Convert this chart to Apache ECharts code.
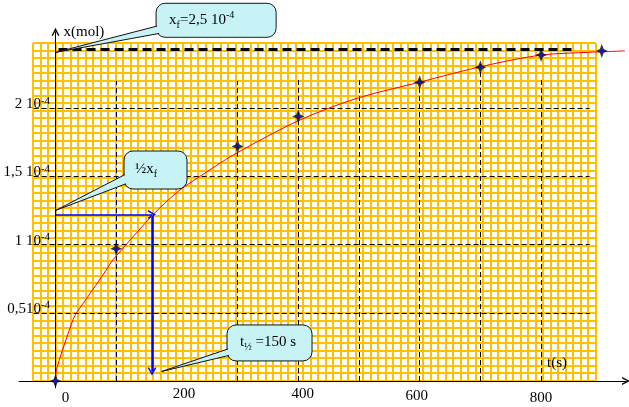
<!DOCTYPE html>
<html><head><meta charset="utf-8">
<script src="https://cdn.jsdelivr.net/npm/echarts@6/dist/echarts.min.js"></script>
<style>html,body{margin:0;padding:0;background:#fff}#c{width:629px;height:407px}</style>
</head><body><div id="c"></div>
<script>
// amounts are in units of 1e-4 mol, times in s
const times = [0, 100, 300, 400, 600, 700, 800, 900];
const amounts = [0, 0.97, 1.72, 1.94, 2.19, 2.30, 2.39, 2.42];
const curveTimes = [0, 2, 21, 32, 49, 83, 95, 161, 202, 238, 294, 401, 495, 599, 706, 801, 881, 938];
const curveAmounts = [0, 0.09, 0.35, 0.48, 0.59, 0.81, 0.89, 1.22, 1.39, 1.50, 1.66, 1.91, 2.07, 2.19, 2.31, 2.39, 2.41, 2.42];
const xTicks = [0, 200, 400, 600, 800];
const yTicks = [0.5, 1, 1.5, 2];
const yTickTexts = ['0,510', '1 10', '1,5 10', '2 10'];
const yTickExponent = '-4';
const dropTimes = [100, 300, 400, 500, 600, 700, 800];
const dropTops = [2.2, 2.2, 2.21, 2.22, 2.2, 2.33, 2.22];
const levelAmounts = [0.5, 1, 1.5, 2];
const levelRange = [-36, 880];
const finalAmount = 2.43;
const finalRange = [5, 852];
const halfTime = 159;
const halfAmount = 1.22;
const arrowEndAmount = 0.07;
const calloutTexts = ['{m|x}{sub|f}{m|=2,5 10}{sup|-4}', '{m|\u00bdx}{sub|f}', '{m|t}{sub|\u00bd}{m| =150 s}'];
const calloutTips = [[1, 2.41], [0, 1.25], [175, 0.07]];
const xName = 't(s)';
const yName = 'x(mol)';

const SERIF = 'Liberation Serif';
const chevron = 'path://M0,10 L5,0 L10,10 L8.2,10 L5,3.6 L1.8,10 Z';
const star = 'path://M5,0 L6.6,4.4 L10,6 L6.6,7.6 L5,12 L3.4,7.6 L0,6 L3.4,4.4 Z';

// callout box layout relative to the tip (pixels)
const calloutLayout = [
  {dx: 100, dy: -49, w: 120, h: 34, b1: 22, b2: 30, tx: 13, ty: 17},
  {dx: 68.5, dy: -59.5, w: 63, h: 38, b1: 22, b2: 32, tx: 11, ty: 18},
  {dx: 65.3, dy: -46.5, w: 85, h: 36, b1: 23, b2: 30, tx: 13, ty: 17}
];
const calloutRich = {
  m: {fontFamily: SERIF, fontSize: 15, lineHeight: 20, verticalAlign: 'middle', color: '#000'},
  sub: {fontFamily: SERIF, fontSize: 10, verticalAlign: 'bottom', color: '#000'},
  sup: {fontFamily: SERIF, fontSize: 10, verticalAlign: 'top', color: '#000'}
};

function renderCallout(params, api) {
  const i = params.dataIndex;
  const tip = api.coord([api.value(0), api.value(1)]);
  const L = calloutLayout[i];
  const bx = tip[0] + L.dx, by = tip[1] + L.dy;
  const fill = '#c8f3f6', stroke = '#111';
  return {type: 'group', children: [
    {type: 'rect', shape: {x: bx, y: by, width: L.w, height: L.h, r: 9}, style: {fill: fill, stroke: stroke, lineWidth: 1}},
    {type: 'polygon', shape: {points: [[bx + 4, by + L.b1], [tip[0], tip[1]], [bx + 4, by + L.b2]]}, style: {fill: fill, stroke: stroke, lineWidth: 1}},
    {type: 'rect', shape: {x: bx + 1, y: by + 1, width: L.w - 2, height: L.h - 2, r: 8}, style: {fill: fill}},
    {type: 'text', style: {text: calloutTexts[i], rich: calloutRich, x: bx + L.tx, y: by + L.ty, align: 'left', verticalAlign: 'middle'}}
  ]};
}

const xNudge = [{padding: [4, 0, 0, 20]}, {padding: [0, 0, 0, 14]}, {padding: [0, 0, 0, 9]}, {padding: [2, 6, 0, 0]}, {padding: [4, 0, 0, 0]}];
const xRich = {};
xNudge.forEach((n, i) => { xRich['t' + i] = Object.assign({fontFamily: SERIF, fontSize: 15, color: '#000'}, n); });

const noLabel = {show: false};
const chart = echarts.init(document.getElementById('c'), null, {renderer: 'canvas'});
chart.setOption({
  animation: false,
  backgroundColor: '#fff',
  grid: [
    {left: 19.08, width: 607, top: 31.82, height: 356, outerBoundsMode: 'none', containLabel: false},
    {left: 33, top: 43, width: 562.5, height: 337.5, outerBoundsMode: 'none', containLabel: false}
  ],
  xAxis: [
    {type: 'value', gridIndex: 0, min: -60, max: 940, z: 5,
     name: xName, nameLocation: 'end', nameGap: 0,
     nameTextStyle: {fontFamily: SERIF, fontSize: 15, color: '#000', align: 'right', verticalAlign: 'bottom', padding: [0, 59, 10, 0]},
     axisLine: {onZero: true, symbol: ['none', chevron], symbolSize: [8, 8], lineStyle: {color: '#000', width: 1}},
     axisTick: {show: false}, splitLine: {show: false},
     axisLabel: {customValues: xTicks, margin: -1, formatter: (v) => '{t' + xTicks.indexOf(v) + '|' + v + '}', rich: xRich}},
    {type: 'value', gridIndex: 1, min: 0, max: 75, interval: 1, silent: true,
     axisLine: {show: false}, axisTick: {show: false}, axisLabel: {show: false},
     splitLine: {show: true, lineStyle: {color: '#ffc000', width: 2}}}
  ],
  yAxis: [
    {type: 'value', gridIndex: 0, min: -0.05, max: 2.56, z: 5,
     name: yName, nameLocation: 'end', nameGap: 0,
     nameTextStyle: {fontFamily: SERIF, fontSize: 15, color: '#000', align: 'left', verticalAlign: 'middle', padding: [6, 0, 0, 8]},
     axisLine: {onZero: true, symbol: ['none', chevron], symbolSize: [8, 8], lineStyle: {color: '#000', width: 1}},
     axisTick: {show: false}, splitLine: {show: false},
     axisLabel: {customValues: yTicks, margin: -31, padding: [0, 0, 8, 0],
       formatter: (v) => '{m|' + yTickTexts[yTicks.indexOf(v)] + '}{s|' + yTickExponent + '}',
       rich: {m: {fontFamily: SERIF, fontSize: 15, lineHeight: 18, verticalAlign: 'middle', color: '#000'},
              s: {fontFamily: SERIF, fontSize: 11, verticalAlign: 'top', color: '#000'}}}},
    {type: 'value', gridIndex: 1, min: 0, max: 45, interval: 1, silent: true,
     axisLine: {show: false}, axisTick: {show: false}, axisLabel: {show: false},
     splitLine: {show: true, lineStyle: {color: '#ffc000', width: 2}}}
  ],
  series: [
    {type: 'line', xAxisIndex: 0, yAxisIndex: 0, data: [], z: 4,
     markLine: {silent: true, symbol: ['none', 'none'], label: noLabel, emphasis: {disabled: true},
       lineStyle: {color: '#000', width: 1, type: [5, 3]},
       data: dropTimes.map((t, i) => [{coord: [t, 0]}, {coord: [t, dropTops[i]]}])
         .concat(levelAmounts.map(a => [{coord: [levelRange[0], a]}, {coord: [levelRange[1], a]}]))}},
    {type: 'line', xAxisIndex: 0, yAxisIndex: 0, data: [], z: 4,
     markLine: {silent: true, symbol: ['none', 'none'], label: noLabel, emphasis: {disabled: true},
       lineStyle: {color: '#000', width: 3, type: [9, 5]},
       data: [[{coord: [finalRange[0], finalAmount]}, {coord: [finalRange[1], finalAmount]}]]}},
    {type: 'line', xAxisIndex: 0, yAxisIndex: 0, z: 6,
     data: curveTimes.map((t, i) => [t, curveAmounts[i]]),
     smooth: 0.3, showSymbol: false, lineStyle: {color: '#ff0000', width: 1}},
    {type: 'line', xAxisIndex: 0, yAxisIndex: 0, data: [], z: 8,
     markLine: {silent: true, symbol: ['none', chevron], symbolSize: [9, 8], label: noLabel, emphasis: {disabled: true},
       data: [
         [{coord: [0, halfAmount], lineStyle: {color: '#0000ff', width: 1.5, type: 'solid'}}, {coord: [halfTime, halfAmount]}],
         [{coord: [halfTime, halfAmount], lineStyle: {color: '#0000ff', width: 2.5, type: 'solid'}}, {coord: [halfTime, arrowEndAmount]}]
       ]}},
    {type: 'scatter', xAxisIndex: 0, yAxisIndex: 0, z: 10,
     data: times.map((t, i) => [t, amounts[i]]),
     symbol: star, symbolSize: [12, 14], itemStyle: {color: '#000020'}},
    {type: 'scatter', xAxisIndex: 0, yAxisIndex: 0, z: 11,
     data: times.map((t, i) => [t, amounts[i]]),
     symbol: 'diamond', symbolSize: 5, itemStyle: {color: '#1010e0'}},
    {type: 'custom', xAxisIndex: 0, yAxisIndex: 0, z: 12, clip: false,
     data: calloutTips, renderItem: renderCallout}
  ]
});
</script>
</body></html>
